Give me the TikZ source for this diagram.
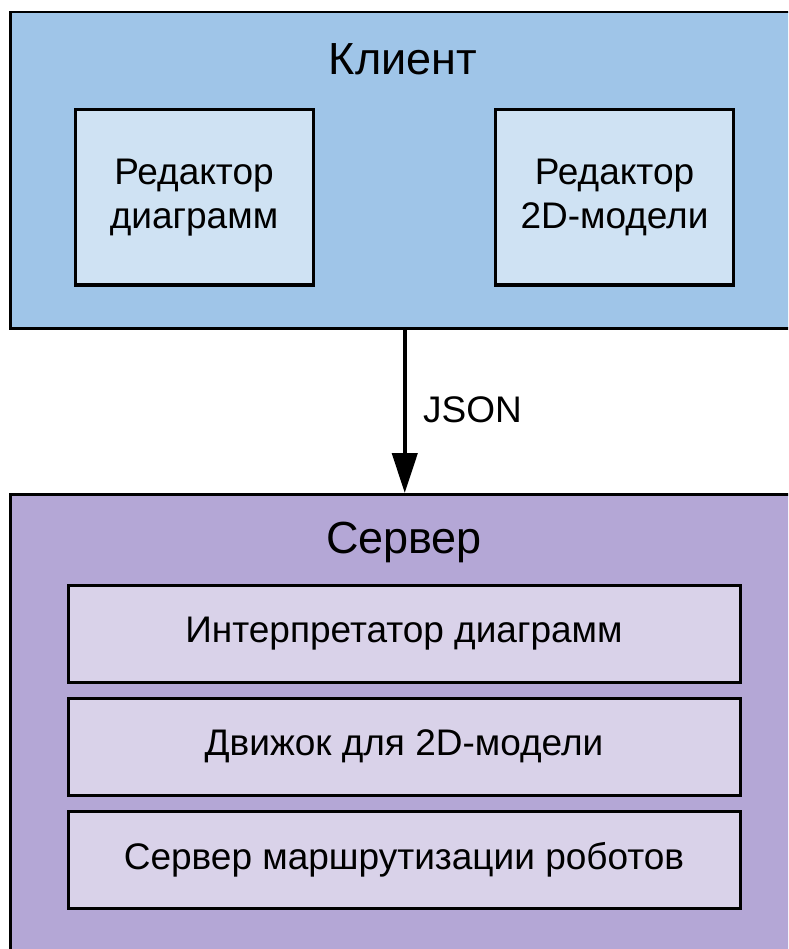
\documentclass[tikz,border=0pt]{standalone}
\usepackage{fontspec}
\setmainfont{Liberation Sans}
\usetikzlibrary{arrows.meta}
\definecolor{clientfill}{HTML}{9FC5E8}
\definecolor{clientinner}{HTML}{CFE2F3}
\definecolor{serverfill}{HTML}{B4A7D6}
\definecolor{serverinner}{HTML}{D9D2E9}
\tikzset{
  outerbox/.style={draw=black, line width=2.5pt, anchor=north west, inner sep=0pt},
  clientbox/.style={draw=black, line width=3pt, fill=clientinner, minimum width=238pt, minimum height=175pt, align=center, inner sep=0pt, font=\fontsize{37}{44}\selectfont},
  serverbox/.style={draw=black, line width=3pt, fill=serverinner, minimum width=672pt, minimum height=97pt, inner sep=0pt, font=\fontsize{37}{44}\selectfont},
  titletext/.style={anchor=base, inner sep=0pt, font=\fontsize{45}{54}\selectfont},
  labeltext/.style={anchor=base west, inner sep=0pt, font=\fontsize{37}{44}\selectfont},
  flow/.style={line width=4.5pt, -{Triangle[length=40pt,width=25pt]}}
}
\begin{document}
\begin{tikzpicture}[x=1pt,y=-1pt]
\useasboundingbox (0,0) rectangle (788,949);
\clip (0,0) rectangle (788,949);
\node[outerbox, fill=clientfill, minimum width=789pt, minimum height=316pt] (client) at (9,11) {};
\node[outerbox, fill=serverfill, minimum width=789pt, minimum height=480pt] (server) at (9,493) {};
\node[titletext] (clienttitle) at (403,75) {Клиент};
\node[titletext] (servertitle) at (404,553) {Сервер};
\node[clientbox] (diag) at (194,197.5) {Редактор\\диаграмм};
\node[clientbox] (model) at (614.5,197.5) {Редактор\\2D-модели};
\node[serverbox] (interp) at (404,634) {Интерпретатор диаграмм};
\node[serverbox] (engine) at (404,746.5) {Движок для 2D-модели};
\node[serverbox] (route) at (404,860) {Сервер маршрутизации роботов};
\draw[flow] (client.south) -- (server.north);
\node[labeltext] (json) at (423,422) {JSON};
\end{tikzpicture}
\end{document}
